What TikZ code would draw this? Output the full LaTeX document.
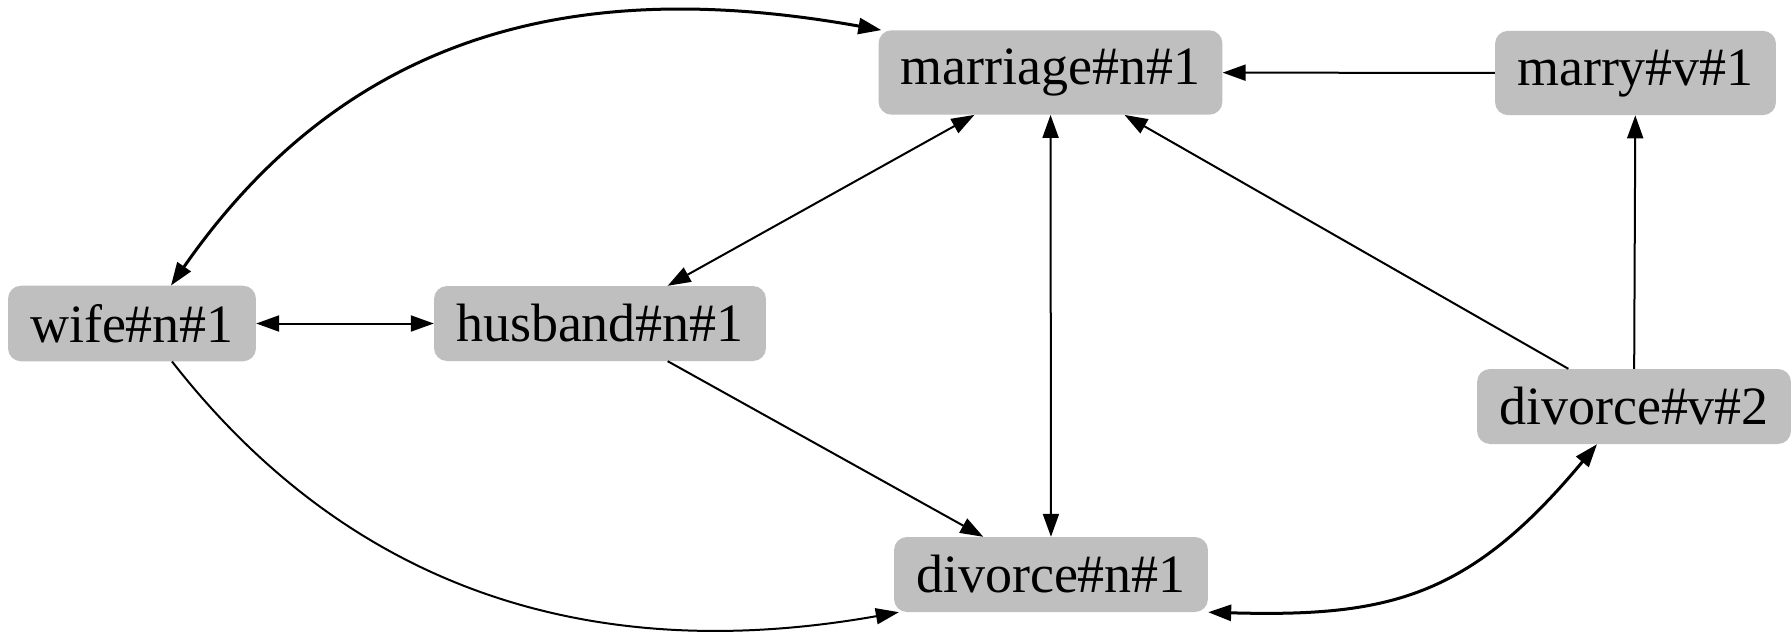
\documentclass[tikz,border=0pt]{standalone}
\usepackage{fontspec}
\setmainfont{Liberation Serif}
\usetikzlibrary{arrows.meta}
\definecolor{boxgray}{RGB}{191,191,191}
\begin{document}
\begin{tikzpicture}[x=1pt,y=-1pt,
  arr/.tip={Triangle[length=23pt,width=16pt]},
  concept/.style={fill=boxgray, rounded corners=13pt, inner xsep=22pt, inner ysep=18.5pt,
    font=\fontsize{54}{60}\selectfont},
  link/.style={line width=2pt, -arr},
  both/.style={line width=2pt, arr-arr},
  heavy/.style={line width=3pt}
]
\useasboundingbox (0,0) rectangle (1792,635);

% word senses
\node[concept] (marriage) at (1050.5,72.5) {marriage\#n\#1};
\node[concept] (marry)    at (1635.5,73)   {marry\#v\#1};
\node[concept] (wife)     at (132,323.5)   {wife\#n\#1};
\node[concept] (husband)  at (600,323.5)   {husband\#n\#1};
\node[concept] (divv)     at (1634,406.5)  {divorce\#v\#2};
\node[concept] (divn)     at (1051,574.5)  {divorce\#n\#1};

% straight relations
\draw[both] (wife) -- (husband);
\draw[both] (husband) -- (marriage);
\draw[both] (marriage) -- (divn);
\draw[link] (marry) -- (marriage);
\draw[link] (divv) -- (marry);
\draw[link] (divv) -- (marriage);
\draw[link] (husband) -- (divn);

% curved relations
\draw[both, heavy] ([xshift=39pt]wife.north)
  .. controls +(194,-279) and +(-264,-47) .. ([xshift=3pt]marriage.north west);
\draw[link] ([xshift=40pt]wife.south)
  .. controls +(186,238) and +(-294,52) .. ([xshift=5pt]divn.south west);
\draw[both, heavy] (divn.south east)
  .. controls +(180,5) and +(-128,154) .. ([xshift=-37pt]divv.south);
\end{tikzpicture}
\end{document}
